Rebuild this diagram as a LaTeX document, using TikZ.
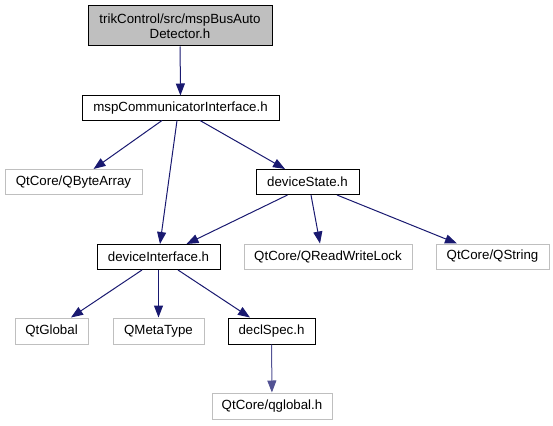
\documentclass[tikz,border=0pt]{standalone}
\usepackage{fontspec}
\setmainfont{Liberation Sans}
\usetikzlibrary{arrows.meta,positioning}
\definecolor{azulnoche}{HTML}{191970}
\definecolor{grisclaro}{HTML}{BFBFBF}
\tikzstyle{archivo} = [draw=black, line width=1pt, rectangle, inner sep=0pt, font=\fontsize{13.3}{15.5}\selectfont]
\tikzstyle{externo} = [archivo, draw=grisclaro]
\tikzstyle{inicio} = [archivo, fill=grisclaro, align=center]
\tikzstyle{dependencia} = [draw=azulnoche, line width=1pt, -{Triangle[length=12pt,width=9pt]}]
\begin{document}
\begin{tikzpicture}[x=1pt, y=-1pt]
	\useasboundingbox (0,0) rectangle (553,425);
	% archivos
	\node[inicio, minimum width=184, minimum height=40] (raiz) at (180,26) {trikControl/src/mspBusAuto\\Detector.h};
	\node[archivo, minimum width=197, minimum height=24] (msp) at (180.5,108) {mspCommunicatorInterface.h};
	\node[externo, minimum width=137, minimum height=25] (qba) at (73.5,182) {QtCore/QByteArray};
	\node[archivo, minimum width=103, minimum height=25] (estado) at (307.5,182) {deviceState.h};
	\node[archivo, minimum width=123, minimum height=25] (interfaz) at (158.5,257) {deviceInterface.h};
	\node[externo, minimum width=168, minimum height=25] (qrwl) at (328,256.5) {QtCore/QReadWriteLock};
	\node[externo, minimum width=113, minimum height=25] (qstr) at (492.5,256.5) {QtCore/QString};
	\node[externo, minimum width=73, minimum height=26] (qtglobal) at (51.5,331) {QtGlobal};
	\node[externo, minimum width=91, minimum height=26] (qmeta) at (158.5,331) {QMetaType};
	\node[archivo, minimum width=87, minimum height=26] (declspec) at (271.5,331) {declSpec.h};
	\node[externo, minimum width=120, minimum height=26] (qglobal) at (272,406) {QtCore/qglobal.h};
	% dependencias
	\draw[dependencia] (raiz) -- (msp);
	\draw[dependencia] ([xshift=-18.5]msp.south) -- ([xshift=20]qba.north);
	\draw[dependencia] ([xshift=-3.5]msp.south) -- ([xshift=1.5]interfaz.north);
	\draw[dependencia] ([xshift=19.5]msp.south) -- ([xshift=-22.5]estado.north);
	\draw[dependencia] ([xshift=-20]estado.south) -- ([xshift=28]interfaz.north);
	\draw[dependencia] ([xshift=3.5]estado.south) -- ([xshift=-8]qrwl.north);
	\draw[dependencia] ([xshift=29.5]estado.south) -- ([xshift=-35.5]qstr.north);
	\draw[dependencia] ([xshift=-16.5]interfaz.south) -- ([xshift=19.5]qtglobal.north);
	\draw[dependencia] (interfaz) -- (qmeta);
	\draw[dependencia] ([xshift=19.5]interfaz.south) -- ([xshift=-21.5]declspec.north);
	\draw[dependencia, draw=azulnoche!75] (declspec) -- (qglobal);
\end{tikzpicture}
\end{document}
